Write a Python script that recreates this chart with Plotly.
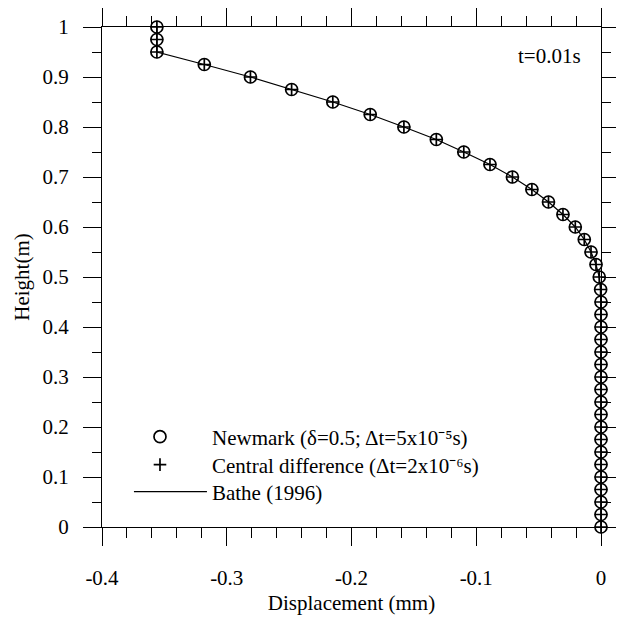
import plotly.graph_objects as go

heights = [0.0, 0.025, 0.05, 0.075, 0.1, 0.125, 0.15, 0.175, 0.2, 0.225,
           0.25, 0.275, 0.3, 0.325, 0.35, 0.375, 0.4, 0.425, 0.45, 0.475,
           0.5, 0.525, 0.55, 0.575, 0.6, 0.625, 0.65, 0.675, 0.7, 0.725,
           0.75, 0.775, 0.8, 0.825, 0.85, 0.875, 0.9, 0.925, 0.95, 0.975, 1.0]

newmark = [0, 0, 0, 0, 0, 0, 0, 0, 0, 0,
           0, 0, 0, 0, 0, 0, 0, 0, 0, -0.0003,
           -0.0014, -0.004, -0.008, -0.0134, -0.0206, -0.0305, -0.0421, -0.0554, -0.071, -0.089,
           -0.110, -0.132, -0.158, -0.185, -0.215, -0.248, -0.281, -0.318, -0.356, -0.356, -0.356]

central = list(newmark)
bathe = list(newmark)

x_ticks = [-0.4, -0.3, -0.2, -0.1, 0]
x_labels = ["-0.4", "-0.3", "-0.2", "-0.1", "0"]
y_ticks = [0, 0.1, 0.2, 0.3, 0.4, 0.5, 0.6, 0.7, 0.8, 0.9, 1]
y_labels = ["0", "0.1", "0.2", "0.3", "0.4", "0.5", "0.6", "0.7", "0.8", "0.9", "1"]

FONT = "Liberation Serif"
FS = 21

fig = go.Figure()
fig.add_trace(go.Scatter(
    x=newmark, y=heights, mode="markers", name="Newmark (δ=0.5; Δt=5x10⁻⁵s)",
    marker=dict(symbol="circle-open", size=12, color="black", line=dict(width=1.7)),
    cliponaxis=False, legend="legend", showlegend=True))
fig.add_trace(go.Scatter(
    x=central, y=heights, mode="markers", name="Central difference (Δt=2x10⁻⁶s)",
    marker=dict(symbol="cross-thin-open", size=9, color="black", line=dict(width=1.7, color="black")),
    cliponaxis=False, legend="legend2", showlegend=True))
fig.add_trace(go.Scatter(
    x=bathe, y=heights, mode="lines", name="Bathe (1996)",
    line=dict(color="black", width=1.2), cliponaxis=False, legend="legend3", showlegend=True))

axis_common = dict(
    showline=True, linecolor="black", linewidth=1, mirror="allticks",
    ticks="outside", ticklen=18, tickwidth=1, tickcolor="black",
    showgrid=False, zeroline=False, automargin=False,
    tickfont=dict(family=FONT, size=FS, color="black"),
)

fig.update_xaxes(
    range=[-0.4, 0], tickvals=x_ticks, ticktext=x_labels,
    minor=dict(dtick=0.02, ticks="outside", ticklen=10, tickcolor="black", tickwidth=1),
    title=dict(text="Displacement (mm)", font=dict(family=FONT, size=FS, color="black"), standoff=6),
    ticklabelstandoff=14,
    **axis_common)
fig.update_yaxes(
    range=[0, 1], tickvals=y_ticks, ticktext=y_labels,
    minor=dict(dtick=0.05, ticks="outside", ticklen=9, tickcolor="black", tickwidth=1),
    title=dict(text="Height(m)", font=dict(family=FONT, size=FS, color="black"), standoff=7),
    ticklabelstandoff=10,
    **axis_common)

fig.add_annotation(x=0.896, y=0.942, xref="paper", yref="paper", text="t=0.01s",
                   xanchor="center", yanchor="middle",
                   showarrow=False, font=dict(family=FONT, size=FS, color="black"))

legend_common = dict(xanchor="left", yanchor="middle", bgcolor="rgba(0,0,0,0)",
                     visible=True, font=dict(family=FONT, size=FS, color="black"))

fig.update_layout(
    width=624, height=617,
    showlegend=True,
    margin=dict(l=94, r=31, t=19, b=98),
    paper_bgcolor="white", plot_bgcolor="white",
    font=dict(family=FONT, size=FS, color="black"),
    legend=dict(x=0.012, y=0.18, itemwidth=94, **legend_common),
    legend2=dict(x=0.012, y=0.124, itemwidth=94, **legend_common),
    legend3=dict(x=0.054, y=0.07, itemwidth=73, **legend_common),
)

fig.write_html("out.html")
